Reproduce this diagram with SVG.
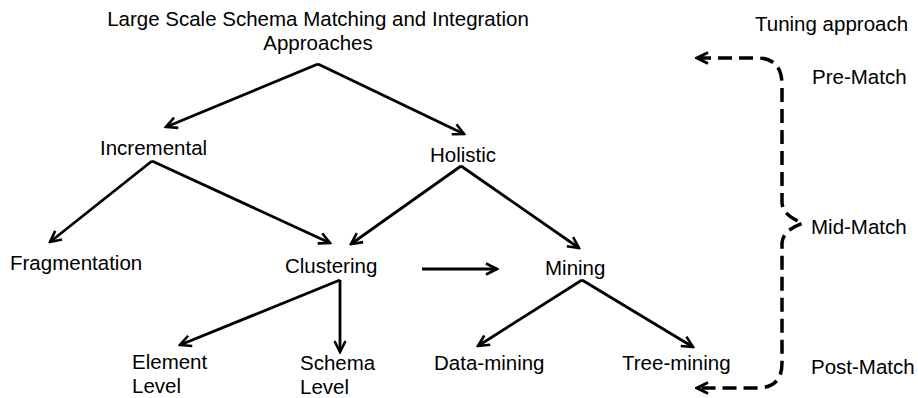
<svg xmlns="http://www.w3.org/2000/svg" width="918" height="398" viewBox="0 0 918 398">
<style>
text{font-family:"Liberation Sans",Arial,sans-serif;font-size:20.5px;fill:#000}
.c line{stroke:#000;stroke-width:2.8;marker-end:url(#ah)}
.d{fill:none;stroke:#000;stroke-width:3.5;stroke-dasharray:14 7}
</style>
<defs>
<marker id="ah" viewBox="0 0 14 14" refX="12" refY="7" markerWidth="14" markerHeight="14" markerUnits="userSpaceOnUse" orient="auto">
<path d="M1,1.5 L12,7 L1,12.5" fill="none" stroke="#000" stroke-width="2.6"/>
</marker>
<marker id="ah2" viewBox="0 0 14 14" refX="12" refY="7" markerWidth="14" markerHeight="14" markerUnits="userSpaceOnUse" orient="auto-start-reverse">
<path d="M1,1.5 L12,7 L1,12.5" fill="none" stroke="#000" stroke-width="3"/>
</marker>
</defs>
<g id="root"><text x="318" y="26" text-anchor="middle">Large Scale Schema Matching and Integration</text><text x="318" y="50" text-anchor="middle">Approaches</text></g>
<g id="incremental"><text x="100" y="155">Incremental</text></g>
<g id="holistic"><text x="430" y="162">Holistic</text></g>
<g id="fragmentation"><text x="10" y="270">Fragmentation</text></g>
<g id="clustering"><text x="285" y="273">Clustering</text></g>
<g id="mining"><text x="545" y="275">Mining</text></g>
<g id="element"><text x="132" y="369">Element</text><text x="132" y="393">Level</text></g>
<g id="schema"><text x="300" y="370">Schema</text><text x="300" y="394">Level</text></g>
<g id="datamining"><text x="434" y="370">Data-mining</text></g>
<g id="treemining"><text x="622" y="370">Tree-mining</text></g>
<g id="tuning"><text x="755" y="31">Tuning approach</text></g>
<g id="prematch"><text x="812" y="84">Pre-Match</text></g>
<g id="midmatch"><text x="811" y="234">Mid-Match</text></g>
<g id="postmatch"><text x="811" y="374">Post-Match</text></g>
<g class="c" id="connectors">
<line x1="318" y1="64" x2="166" y2="127"/>
<line x1="318" y1="64" x2="464" y2="134"/>
<line x1="152" y1="161" x2="50" y2="242"/>
<line x1="152" y1="161" x2="330" y2="243"/>
<line x1="461" y1="166" x2="351" y2="244"/>
<line x1="461" y1="166" x2="579" y2="248"/>
<line x1="422" y1="269" x2="497" y2="269"/>
<line x1="340" y1="280" x2="180" y2="345"/>
<line x1="340" y1="280" x2="340" y2="352"/>
<line x1="582" y1="280" x2="478" y2="346"/>
<line x1="582" y1="280" x2="693" y2="347"/>
<path class="d" d="M697,58 L757,58 Q782,58 782,85 L782,203 Q783,216 803,223 Q783,230 782,243 L782,363 Q782,388 757,388 L697,388" style="marker-start:url(#ah2);marker-end:url(#ah2)"/>
</g>
</svg>
